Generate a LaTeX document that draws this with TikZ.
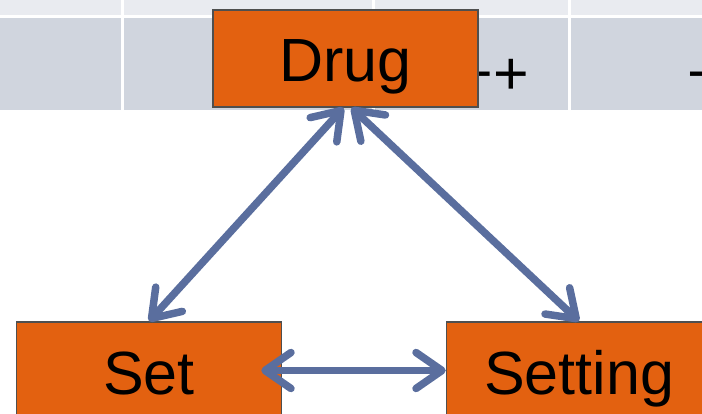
\documentclass[tikz,border=0pt]{standalone}
\usepackage{fontspec}
\setmainfont{Liberation Sans}
\usetikzlibrary{arrows.meta,calc}
\definecolor{boxorange}{HTML}{E36110}
\definecolor{boxedge}{HTML}{4F4F4F}
\definecolor{linkblue}{HTML}{5A6E9E}
\definecolor{rowlight}{HTML}{E9EBF0}
\definecolor{rowdark}{HTML}{D0D5DE}
\tikzset{barb/.tip={Straight Barb[length=26pt,width=36pt,round]}}
\begin{document}
\begin{tikzpicture}[x=1pt,y=-1pt,
  factor/.style={draw=boxedge, line width=1.5pt, fill=boxorange,
    minimum width=265pt, minimum height=97pt, inner sep=0pt,
    font=\fontsize{61}{61}\selectfont, text height=47pt, text depth=0pt},
  link/.style={draw=linkblue, line width=7.5pt, line cap=round, barb-barb},
  celltext/.style={font=\fontsize{61}{61}\selectfont, inner sep=0pt, anchor=base west}]
\useasboundingbox (0,0) rectangle (702,414);
% table rows behind the diagram
\fill[rowlight] (0,0) rectangle (702,15);
\fill[rowdark] (0,18) rectangle (702,110);
\foreach \x in {122.5,373,569.5} \fill[white] (\x-1.5,0) rectangle (\x+1.5,110);
\node[celltext] (cellA) at (457.5,95) {++};
\node[celltext] (cellB) at (687,95) {+};
% factors
\node[factor] (drug) at (345.5,58.5) {Drug};
\node[factor] (set) at (149,370.5) {Set};
\node[factor] (setting) at (579,370.5) {Setting};
% two-way links
\draw[link] ($(drug.south)+(-2,0)$) -- (set.north);
\draw[link] ($(drug.south)+(6,0)$) -- (setting.north);
\draw[link] ($(set.east)+(-21,0)$) -- (setting.west);
\end{tikzpicture}
\end{document}
